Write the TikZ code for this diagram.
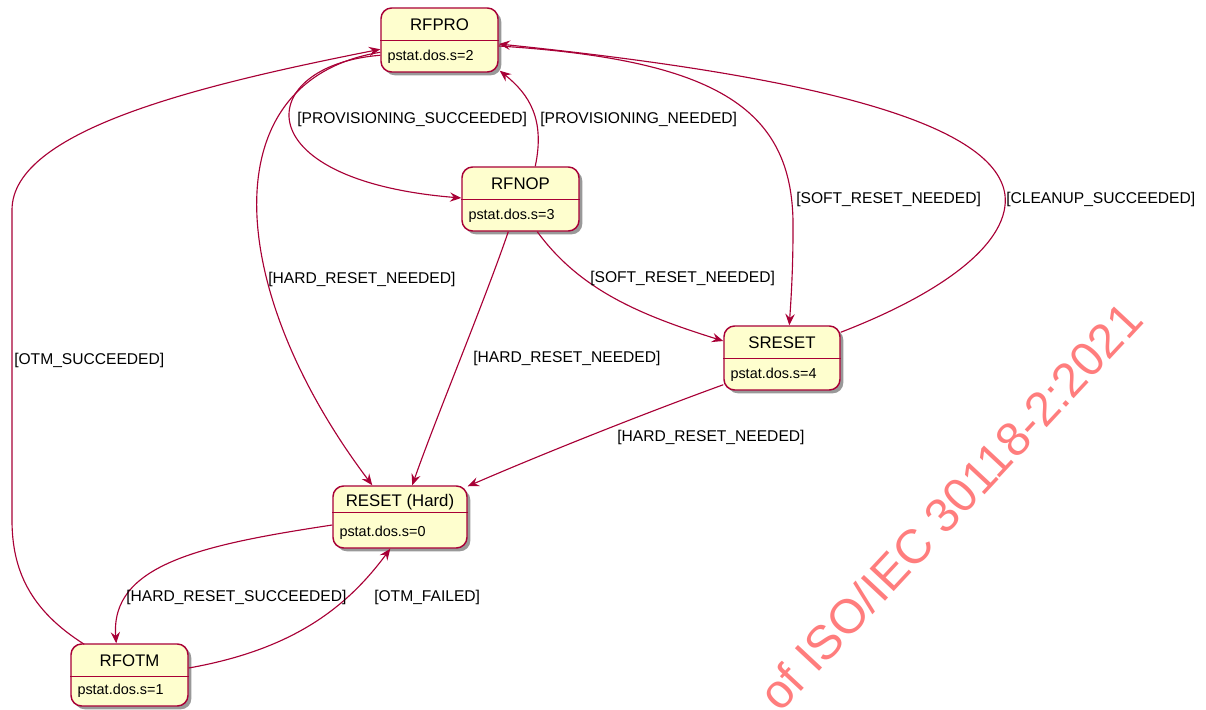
\documentclass[tikz,border=0pt]{standalone}
\usepackage{fontspec}
\setmainfont{Liberation Sans}
\usepackage{tikz}
\usepackage{xcolor}
\usetikzlibrary{arrows.meta,calc,shadows}

\definecolor{umlred}{RGB}{168,0,54}
\definecolor{umlfill}{RGB}{254,254,206}
\definecolor{wmred}{RGB}{255,125,125}

\begin{document}
\begin{tikzpicture}[x=0.75pt,y=0.75pt,yscale=-1,xscale=1,
  statebox/.style={draw=umlred,fill=umlfill,line width=1.1pt,rounded corners=8pt,inner sep=0pt,
    drop shadow={shadow xshift=2.5pt,shadow yshift=-2.5pt,opacity=0.4,fill=black}},
  divider/.style={draw=umlred,line width=1.1pt},
  title/.style={inner sep=0pt,font=\fontsize{12.6}{15}\selectfont},
  info/.style={anchor=west,inner sep=0pt,font=\fontsize{10.8}{13}\selectfont},
  trans/.style={draw=umlred,line width=0.85pt,-{Stealth[length=8.5pt,width=7pt,inset=3pt]}},
  guard/.style={anchor=west,inner sep=0pt,font=\fontsize{11.7}{14}\selectfont},
  watermark/.style={inner sep=0pt,text=wmred,font=\fontsize{36}{40}\selectfont}]
\useasboundingbox (0,0) rectangle (1206,710);

% States
\node[statebox,minimum width=87.75pt,minimum height=48pt] (rfpro) at (439.5,40) {};
\node[statebox,minimum width=87.75pt,minimum height=48pt] (rfnop) at (520.5,199) {};
\node[statebox,minimum width=87pt,minimum height=48pt] (sreset) at (782,358) {};
\node[statebox,minimum width=100.5pt,minimum height=46.5pt] (reset) at (400,517) {};
\node[statebox,minimum width=87.75pt,minimum height=46.5pt] (rfotm) at (129.5,675) {};

% Dividers
\draw[divider] ($(rfpro.north west)+(0,33)$) -- ($(rfpro.north east)+(0,33)$);
\draw[divider] ($(rfnop.north west)+(0,33)$) -- ($(rfnop.north east)+(0,33)$);
\draw[divider] ($(sreset.north west)+(0,33)$) -- ($(sreset.north east)+(0,33)$);
\draw[divider] ($(reset.north west)+(0,27)$) -- ($(reset.north east)+(0,27)$);
\draw[divider] ($(rfotm.north west)+(0,33)$) -- ($(rfotm.north east)+(0,33)$);

% State names
\node[title] (rfpro-t) at ($(rfpro.north)+(0,17)$) {RFPRO};
\node[title] (rfnop-t) at ($(rfnop.north)+(0,17)$) {RFNOP};
\node[title] (sreset-t) at ($(sreset.north)+(0,17)$) {SRESET};
\node[title] (reset-t) at ($(reset.north)+(0,17)$) {RESET (Hard)};
\node[title] (rfotm-t) at ($(rfotm.north)+(0,17)$) {RFOTM};

% State values
\node[info] (rfpro-i) at ($(rfpro.north west)+(7,50)$) {pstat.dos.s=2};
\node[info] (rfnop-i) at ($(rfnop.north west)+(7,50)$) {pstat.dos.s=3};
\node[info] (sreset-i) at ($(sreset.north west)+(7,50)$) {pstat.dos.s=4};
\node[info] (reset-i) at ($(reset.north west)+(7,48)$) {pstat.dos.s=0};
\node[info] (rfotm-i) at ($(rfotm.north west)+(7,48)$) {pstat.dos.s=1};

% Transitions
\draw[trans] ($(rfotm.north west)+(14,1)$) .. controls (30,610) and (12,570) .. (12,520)
  -- (12,210) .. controls (12,130) and (200,85) .. ($(rfpro.north west)+(0,42)$);
\draw[trans] ($(rfpro.north west)+(0,45)$) .. controls (210,80) and (225,290) .. ($(reset.north west)+(40,0)$);
\draw[trans] ($(rfpro.north west)+(0,48)$) .. controls (255,65) and (240,180) .. ($(rfnop.west)+(0,-1)$);
\draw[trans] ($(rfnop.north west)+(74,0)$) .. controls (545,120) and (530,95) .. ($(rfpro.south east)+(1,-2)$);
\draw[trans] ($(rfpro.east)+(0,6)$) .. controls (720,60) and (795,110) .. (793,230)
  .. controls (793,270) and (791,300) .. ($(sreset.north west)+(66,0)$);
\draw[trans] ($(sreset.north east)+(0,7)$) .. controls (950,290) and (1010,240) .. (1005,195)
  .. controls (995,120) and (800,75) .. ($(rfpro.east)+(0,4)$);
\draw[trans] ($(rfnop.south west)+(76,0)$) .. controls (580,290) and (640,315) .. ($(sreset.west)+(0,-17)$);
\draw[trans] ($(rfnop.south west)+(47,0)$) .. controls (485,300) and (435,420) .. ($(reset.north west)+(80,0)$);
\draw[trans] ($(sreset.south west)+(0,-6)$) .. controls (640,415) and (540,455) .. ($(reset.north east)+(0,1)$);
\draw[trans] ($(reset.west)+(0,8)$) .. controls (200,545) and (110,565) .. ($(rfotm.north west)+(46,0)$);
\draw[trans] ($(rfotm.east)+(0,-7)$) .. controls (290,650) and (345,610) .. ($(reset.south west)+(58,0)$);

% Guards
\node[guard] (g-otmok) at (14,360) {[OTM\_SUCCEEDED]};
\node[guard] (g-hard1) at (268,279) {[HARD\_RESET\_NEEDED]};
\node[guard] (g-provok) at (297,119) {[PROVISIONING\_SUCCEEDED]};
\node[guard] (g-provneed) at (540,119) {[PROVISIONING\_NEEDED]};
\node[guard] (g-soft1) at (796,199) {[SOFT\_RESET\_NEEDED]};
\node[guard] (g-clean) at (1006,199) {[CLEANUP\_SUCCEEDED]};
\node[guard] (g-soft2) at (590,278) {[SOFT\_RESET\_NEEDED]};
\node[guard] (g-hard2) at (473,358) {[HARD\_RESET\_NEEDED]};
\node[guard] (g-hard3) at (617,437) {[HARD\_RESET\_NEEDED]};
\node[guard] (g-hardok) at (126,597) {[HARD\_RESET\_SUCCEEDED]};
\node[guard] (g-otmfail) at (374,597) {[OTM\_FAILED]};

% Watermark
\begin{scope}
\clip (0,0) rectangle (1206,710);
\node[watermark,rotate=47,anchor=base west] (wmark) at (780,714) {of ISO/IEC 30118-2:2021};
\end{scope}

\end{tikzpicture}
\end{document}
